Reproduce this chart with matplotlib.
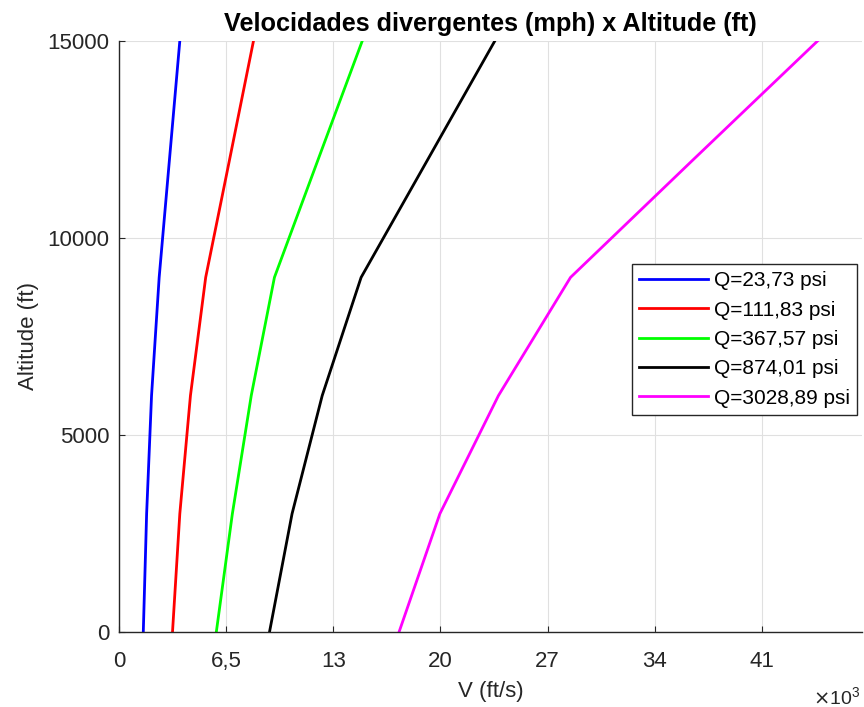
import matplotlib
matplotlib.use('Agg')
import matplotlib.pyplot as plt
import numpy as np

plt.rcParams['font.family'] = ['Liberation Sans', 'DejaVu Sans']

# altitude (ft) and velocity (ft/s, x10^3) per pressure
altitudes = [0, 3000, 6000, 9000, 12000, 15000]
v_23 = [1.53, 1.74, 2.05, 2.53, 3.18, 3.83]
v_111 = [3.37, 3.83, 4.50, 5.46, 6.97, 8.47]
v_367 = [6.13, 7.14, 8.33, 9.79, 12.55, 15.32]
v_874 = [9.48, 10.90, 12.80, 15.25, 19.46, 23.67]
v_3028 = [17.64, 20.21, 23.90, 28.44, 36.20, 44.00]
labels = ['Q=23,73 psi', 'Q=111,83 psi', 'Q=367,57 psi', 'Q=874,01 psi', 'Q=3028,89 psi']
colors = ['#0000ff', '#ff0000', '#00ff00', '#000000', '#ff00ff']

xticks = [0, 6.75, 13.5, 20.25, 27, 33.75, 40.5]
xticklabels = ['0', '6,5', '13', '20', '27', '34', '41']
yticks = [0, 5000, 10000, 15000]

fig = plt.figure(figsize=(8.64, 7.07), dpi=100)
ax = fig.add_axes([119/864, 1 - 632/707, 743/864, 591/707])

for v, lab, c in zip([v_23, v_111, v_367, v_874, v_3028], labels, colors):
    ax.plot(v, altitudes, color=c, lw=2.0, label=lab)

ax.set_xlim(0, 46.8)
ax.set_ylim(0, 15000)
ax.set_xticks(xticks)
ax.set_xticklabels(xticklabels)
ax.set_yticks(yticks)
ax.grid(True, color='#e0e0e0', lw=0.8)
ax.set_axisbelow(True)
for s in ['top', 'right']:
    ax.spines[s].set_visible(False)
for s in ['left', 'bottom']:
    ax.spines[s].set_color('#262626')
    ax.spines[s].set_linewidth(1.0)
ax.tick_params(direction='in', length=4, width=0.8, colors='#262626', labelsize=16)
ax.tick_params(axis='y', pad=7)
ax.tick_params(axis='x', pad=14)

ax.set_title('Velocidades divergentes (mph) x Altitude (ft)',
             fontsize=18.2, fontweight='bold', pad=7.5)
ax.set_xlabel('V (ft/s)', fontsize=16, color='#262626', labelpad=6)
ax.set_ylabel('Altitude (ft)', fontsize=16, color='#262626', labelpad=6)

leg = ax.legend(loc='upper left', bbox_to_anchor=(0.690, 0.623), borderaxespad=0,
                fontsize=15, fancybox=False, framealpha=1, edgecolor='#262626',
                handlelength=3.3, handletextpad=0.3, labelspacing=0.5,
                borderpad=0.35)
leg.get_frame().set_linewidth(1.0)

fig.text(813/864, 1 - 697/707, r'$\times\mathregular{10^{3}}$', fontsize=14,
         color='#262626', va='center', ha='left')

fig.savefig('out.png', dpi=100)
